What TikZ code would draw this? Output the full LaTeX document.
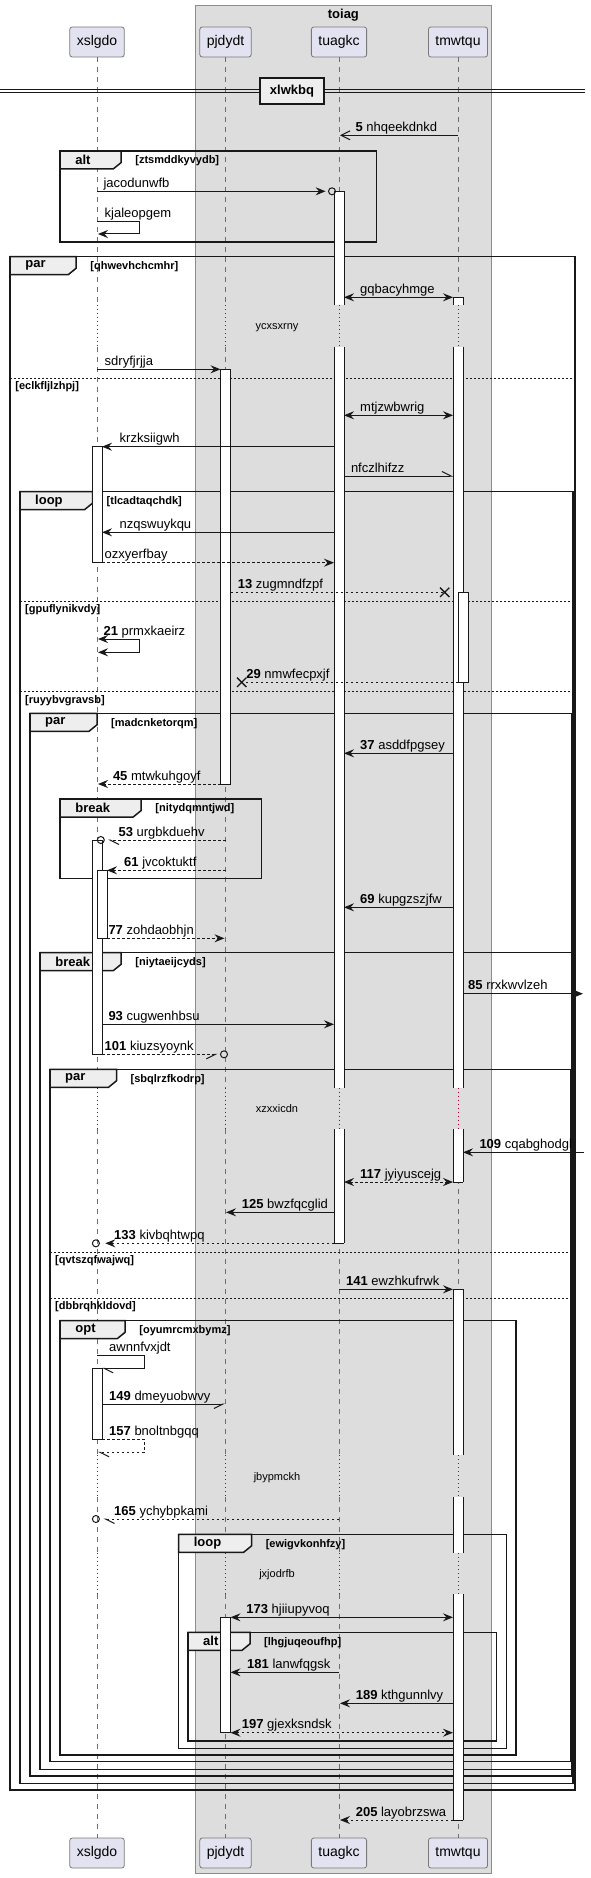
\documentclass[tikz,border=0pt]{standalone}
\usepackage{fontspec}
\setmainfont{Liberation Sans}
\usetikzlibrary{arrows.meta,shapes.misc}
\definecolor{PartFill}{HTML}{E2E2F0}
\definecolor{PartLine}{HTML}{7A7A7A}
\definecolor{GroupGray}{HTML}{DDDDDD}
\definecolor{GroupLine}{HTML}{8C8C8C}
\definecolor{TabFill}{HTML}{EEEEEE}
\definecolor{InkBlack}{HTML}{181818}
\definecolor{LifeGray}{HTML}{6E6E6E}
\definecolor{DelayRed}{HTML}{A80036}

% group frame: name, left, top, right, bottom, tab width, keyword, condition
\newcommand{\grpbox}[8]{%
  \filldraw[grptab] (#2,#3) -- (#2+#6,#3) -- (#2+#6,#3+11.5) -- (#2+#6-8,#3+18) -- (#2,#3+18) -- cycle;
  \draw[grpline] (#2,#3) rectangle (#4,#5);
  \node[grpkw] (#1) at (#2+15,#3+9) {#7};
  \node[grpcond] (#1c) at (#2+#6+14,#3+10) {#8};}
% else line: name, left, right, y, condition
\newcommand{\grpsep}[5]{%
  \draw[sepline] (#2,#4) -- (#3,#4);
  \node[grpcond] (#1) at (#2+5,#4+8.5) {#5};}
% activation bars
\newcommand{\actbar}[3]{\filldraw[actline] (#1-5,#2) rectangle (#1+5,#3);}
\newcommand{\actopen}[3]{\fill[white] (#1-5,#2) rectangle (#1+5,#3);
  \draw[actline] (#1-5,#2) -- (#1-5,#3) (#1+5,#2) -- (#1+5,#3);}
\newcommand{\actcap}[2]{\draw[actline] (#1-5,#2) -- (#1+5,#2);}

\begin{document}
\begin{tikzpicture}[x=1pt,y=-1pt,
  part/.style={draw=PartLine,fill=PartFill,rounded corners=2.5pt,line width=0.8pt,minimum height=30pt,inner xsep=7pt,font=\fontsize{14}{16}\selectfont},
  lifeline/.style={LifeGray,line width=0.8pt,dash pattern=on 5pt off 5pt},
  delayline/.style={DelayRed,line width=0.9pt,dash pattern=on 1pt off 3pt},
  grpline/.style={InkBlack,line width=1.5pt},
  grptab/.style={draw=InkBlack,fill=TabFill,line width=1.5pt},
  grpkw/.style={anchor=west,inner sep=0pt,font=\bfseries\fontsize{13}{15}\selectfont},
  grpcond/.style={anchor=west,inner sep=0pt,font=\bfseries\fontsize{11}{13}\selectfont},
  sepline/.style={InkBlack,line width=0.8pt,dash pattern=on 2pt off 2pt},
  actline/.style={draw=InkBlack,fill=white,line width=1pt},
  msgline/.style={InkBlack,line width=1pt},
  dashmsg/.style={msgline,dash pattern=on 2.5pt off 2.5pt},
  fullhead/.style={-{Stealth[length=10pt,width=8pt,inset=3.5pt]}},
  bothheads/.style={{Stealth[length=10pt,width=8pt,inset=3.5pt]}-{Stealth[length=10pt,width=8pt,inset=3.5pt]}},
  openhead/.style={-{Straight Barb[length=9pt,width=9pt]}},
  halfleft/.style={-{Straight Barb[length=9pt,width=9pt,left]}},
  halfright/.style={-{Straight Barb[length=9pt,width=9pt,right]}},
  endring/.style={circle,draw=InkBlack,line width=1pt,minimum size=7pt,inner sep=0pt},
  endcross/.style={cross out,draw=InkBlack,line width=1.3pt,minimum size=8pt,inner sep=0pt},
  msglbl/.style={anchor=base west,inner sep=0pt,font=\fontsize{13}{15}\selectfont},
  delaytxt/.style={inner sep=0pt,font=\fontsize{11}{13}\selectfont},
  divbox/.style={draw=InkBlack,fill=TabFill,line width=2pt,minimum width=64pt,minimum height=26pt,inner sep=0pt,font=\bfseries\fontsize{13}{15}\selectfont}]
\useasboundingbox[fill=white] (0,0) rectangle (591,1878);

% box round the three participants
\filldraw[fill=GroupGray,draw=GroupLine,line width=1pt] (195.7,6) rectangle (491,1873);
\node[font=\bfseries\fontsize{13}{15}\selectfont,inner sep=0pt] (toiag) at (343.4,15) {toiag};

% participants
\node[part] (xslgdo) at (97,42) {xslgdo};
\node[part] (pjdydt) at (225.5,42) {pjdydt};
\node[part] (tuagkc) at (339,42) {tuagkc};
\node[part] (tmwtqu) at (458,42) {tmwtqu};
\node[part] (xslgdo2) at (97,1853) {xslgdo};
\node[part] (pjdydt2) at (225.5,1853) {pjdydt};
\node[part] (tuagkc2) at (339,1853) {tuagkc};
\node[part] (tmwtqu2) at (458,1853) {tmwtqu};

% lifelines with the four delays
\coordinate (dy1a) at (0,305.3); \coordinate (dy1b) at (0,346.7);
\coordinate (dy2a) at (0,1087.7); \coordinate (dy2b) at (0,1129.3);
\coordinate (dy3a) at (0,1455); \coordinate (dy3b) at (0,1497.3);
\coordinate (dy4a) at (0,1553.3); \coordinate (dy4b) at (0,1594.3);
\foreach \p in {xslgdo,pjdydt,tuagkc,tmwtqu} {
  \draw[lifeline] (\p.south) -- (\p |- dy1a) (\p |- dy1b) -- (\p |- dy2a)
    (\p |- dy2b) -- (\p |- dy3a) (\p |- dy3b) -- (\p |- dy4a) (\p |- dy4b) -- (\p2.north);
  \draw[delayline] (\p |- dy1a) -- (\p |- dy1b) (\p |- dy2a) -- (\p |- dy2b)
    (\p |- dy3a) -- (\p |- dy3b) (\p |- dy4a) -- (\p |- dy4b);
}
\node[delaytxt] (dl1) at (277,327.3) {ycxsxrny};
\node[delaytxt] (dl2) at (277,1109) {xzxxicdn};
\node[delaytxt] (dl3) at (277,1477.3) {jbypmckh};
\node[delaytxt] (dl4) at (277,1574.3) {jxjodrfb};

% groups
\grpbox{gA}{60.2}{151}{376.3}{242}{61}{alt}{[ztsmddkyvydb]}
\grpbox{gB}{10.2}{256.7}{575}{1790}{66}{par}{[qhwevhchcmhr]}
\grpsep{sB1}{10.2}{575}{378.3}{[eclkfljlzhpj]}
\grpbox{gC}{20}{491.7}{573}{1783.3}{72.5}{loop}{[tlcadtaqchdk]}
\grpsep{sC1}{20}{573}{601.3}{[gpuflynikvdy]}
\grpsep{sC2}{20}{573}{691.7}{[ruyybvgravsb]}
\grpbox{gD}{30}{713.3}{572}{1776}{67}{par}{[madcnketorqm]}
\grpbox{gE}{60.2}{799}{261.3}{878.3}{81}{break}{[nitydqmntjwd]}
\grpbox{gF}{40.2}{952.7}{571.5}{1769.3}{81}{break}{[niytaeijcyds]}
\grpbox{gG}{50}{1069.3}{571}{1761.7}{66.5}{par}{[sbqlrzfkodrp]}
\grpsep{sG1}{50}{571}{1252.3}{[qvtszqfwajwq]}
\grpsep{sG2}{50}{571}{1298.3}{[dbbrqhkldovd]}
\grpbox{gH}{60.2}{1320.7}{516}{1755}{65}{opt}{[oyumrcmxbymz]}
\grpbox{gI}{178.6}{1534.3}{506.4}{1748.3}{73}{loop}{[ewigvkonhfzy]}
\grpbox{gJ}{188}{1632.3}{496.6}{1741}{62}{alt}{[lhgjuqeoufhp]}

% divider
\draw[InkBlack,line width=1pt] (0,89.5) -- (585,89.5) (0,93) -- (585,93);
\node[divbox] (xlwkbq) at (292,91) {xlwkbq};

% activations
\actopen{339}{191.3}{305.3} \actcap{339}{191.3}
\actopen{339}{346.7}{1087.7}
\actopen{339}{1129.3}{1243.3} \actcap{339}{1243.3}
\actopen{458}{297.3}{305.3} \actcap{458}{297.3}
\actopen{458}{346.7}{1087.7}
\actopen{458}{1129.3}{1182} \actcap{458}{1182}
\actbar{463}{592.3}{682.3}
\actopen{458}{1289.3}{1455} \actcap{458}{1289.3}
\actopen{458}{1497.3}{1553.3}
\actopen{458}{1594.3}{1820} \actcap{458}{1820}
\actbar{225.5}{369.3}{784}
\actbar{225.5}{1617.3}{1732.7}
\actbar{97}{446.7}{562.7}
\actbar{97}{840}{1054.3}
\actbar{102}{870.3}{938.3}
\actbar{97}{1368.3}{1439.3}

% messages
\coordinate (m5a) at (458,135.3); \coordinate (m5b) at (340,135.3);
\draw[msgline,openhead] (m5a) -- (m5b);
\node[msglbl] (t5) at (355.3,131.3) {\textbf{5} nhqeekdnkd};

\coordinate (jaa) at (97,191.3); \coordinate (jab) at (325.6,191.3);
\draw[msgline,fullhead] (jaa) -- (jab);
\node[endring] (jar) at (332,191.3) {};
\node[msglbl] (jat) at (103.4,187.3) {jacodunwfb};

\coordinate (kja) at (97,221.7); \coordinate (kjb) at (139,221.7);
\coordinate (kjc) at (139,234); \coordinate (kjd) at (98,234);
\draw[msgline,fullhead] (kja) -- (kjb) -- (kjc) -- (kjd);
\node[msglbl] (kjt) at (104.5,217.7) {kjaleopgem};

\coordinate (gqa) at (344,297.3); \coordinate (gqb) at (453,297.3);
\draw[msgline,bothheads] (gqa) -- (gqb);
\node[msglbl] (gqt) at (360,293.3) {gqbacyhmge};

\coordinate (sda) at (97,369.3); \coordinate (sdb) at (220.5,369.3);
\draw[msgline,fullhead] (sda) -- (sdb);
\node[msglbl] (sdt) at (104.5,365.3) {sdryfjrjja};

\coordinate (mta) at (344,415.3); \coordinate (mtb) at (453,415.3);
\draw[msgline,bothheads] (mta) -- (mtb);
\node[msglbl] (mtt) at (360,411.3) {mtjzwbwrig};

\coordinate (kra) at (334,446.7); \coordinate (krb) at (102,446.7);
\draw[msgline,fullhead] (kra) -- (krb);
\node[msglbl] (krt) at (119.5,442.7) {krzksiigwh};

\coordinate (nfa) at (344,476); \coordinate (nfb) at (453,476);
\draw[msgline,halfleft] (nfa) -- (nfb);
\node[msglbl] (nft) at (350.8,472) {nfczlhifzz};

\coordinate (nza) at (334,532.3); \coordinate (nzb) at (102,532.3);
\draw[msgline,fullhead] (nza) -- (nzb);
\node[msglbl] (nzt) at (119.5,528.3) {nzqswuykqu};

\coordinate (oza) at (102,562.7); \coordinate (ozb) at (334,562.7);
\draw[dashmsg,fullhead] (oza) -- (ozb);
\node[msglbl] (ozt) at (104.5,558.7) {ozxyerfbay};

\coordinate (m13a) at (230.5,592.3); \coordinate (m13b) at (444.7,592.3);
\draw[dashmsg] (m13a) -- (m13b);
\node[endcross] (m13x) at (m13b) {};
\node[msglbl] (t13) at (237.6,588.3) {\textbf{13} zugmndfzpf};

\coordinate (m21a) at (98,639); \coordinate (m21b) at (139,639);
\coordinate (m21c) at (139,652.3); \coordinate (m21d) at (98,652.3);
\draw[msgline,bothheads] (m21a) -- (m21b) -- (m21c) -- (m21d);
\node[msglbl] (t21) at (103.4,635) {\textbf{21} prmxkaeirz};

\coordinate (m29a) at (458,682.3); \coordinate (m29b) at (241.7,682.3);
\draw[dashmsg] (m29a) -- (m29b);
\node[endcross] (m29x) at (m29b) {};
\node[msglbl] (t29) at (246.2,678.3) {\textbf{29} nmwfecpxjf};

\coordinate (m37a) at (453,753.3); \coordinate (m37b) at (344,753.3);
\draw[msgline,fullhead] (m37a) -- (m37b);
\node[msglbl] (t37) at (360,749.3) {\textbf{37} asddfpgsey};

\coordinate (m45a) at (220.5,784); \coordinate (m45b) at (98,784);
\draw[dashmsg,fullhead] (m45a) -- (m45b);
\node[msglbl] (t45) at (112.8,780) {\textbf{45} mtwkuhgoyf};

\coordinate (m53a) at (225.5,840); \coordinate (m53b) at (108,840);
\draw[dashmsg,halfleft] (m53a) -- (m53b);
\node[endring] (m53r) at (100.8,840) {};
\node[msglbl] (t53) at (118.4,836) {\textbf{53} urgbkduehv};

\coordinate (m61a) at (225.5,870.3); \coordinate (m61b) at (107,870.3);
\draw[dashmsg,fullhead] (m61a) -- (m61b);
\node[msglbl] (t61) at (124,866.3) {\textbf{61} jvcoktuktf};

\coordinate (m69a) at (453,907.3); \coordinate (m69b) at (344,907.3);
\draw[msgline,fullhead] (m69a) -- (m69b);
\node[msglbl] (t69) at (360,903.3) {\textbf{69} kupgzszjfw};

\coordinate (m77a) at (107,938.3); \coordinate (m77b) at (224.5,938.3);
\draw[dashmsg,fullhead] (m77a) -- (m77b);
\node[msglbl] (t77) at (108.3,934.3) {\textbf{77} zohdaobhjn};

\coordinate (m85a) at (463,993.7); \coordinate (m85b) at (583,993.7);
\draw[msgline,fullhead] (m85a) -- (m85b);
\node[msglbl] (t85) at (468,989.7) {\textbf{85} rrxkwvlzeh};

\coordinate (m93a) at (102,1024.3); \coordinate (m93b) at (334,1024.3);
\draw[msgline,fullhead] (m93a) -- (m93b);
\node[msglbl] (t93) at (108.3,1020.3) {\textbf{93} cugwenhbsu};

\coordinate (m101a) at (102,1054.3); \coordinate (m101b) at (217.5,1054.3);
\draw[dashmsg,halfright] (m101a) -- (m101b);
\node[endring] (m101r) at (224,1054.3) {};
\node[msglbl] (t101) at (104.5,1050.3) {\textbf{101} kiuzsyoynk};

\coordinate (m109a) at (583.5,1152.3); \coordinate (m109b) at (463,1152.3);
\draw[msgline,fullhead] (m109a) -- (m109b);
\node[msglbl] (t109) at (479.3,1148.3) {\textbf{109} cqabghodgl};

\coordinate (m117a) at (344,1182); \coordinate (m117b) at (453,1182);
\draw[dashmsg,bothheads] (m117a) -- (m117b);
\node[msglbl] (t117) at (360,1178) {\textbf{117} jyiyuscejg};

\coordinate (m125a) at (334,1212.3); \coordinate (m125b) at (226,1212.3);
\draw[msgline,fullhead] (m125a) -- (m125b);
\node[msglbl] (t125) at (241.7,1208.3) {\textbf{125} bwzfqcglid};

\coordinate (m133a) at (334,1243.3); \coordinate (m133b) at (105.3,1243.3);
\draw[dashmsg,fullhead] (m133a) -- (m133b);
\node[endring] (m133r) at (95.9,1243.3) {};
\node[msglbl] (t133) at (114,1239.3) {\textbf{133} kivbqhtwpq};

\coordinate (m141a) at (339,1289.3); \coordinate (m141b) at (453,1289.3);
\draw[msgline,fullhead] (m141a) -- (m141b);
\node[msglbl] (t141) at (345.9,1285.3) {\textbf{141} ewzhkufrwk};

\coordinate (awa) at (97,1355.7); \coordinate (awb) at (144,1355.7);
\coordinate (awc) at (144,1368.3); \coordinate (awd) at (102,1368.3);
\draw[msgline,halfleft] (awa) -- (awb) -- (awc) -- (awd);
\node[msglbl] (awt) at (109,1351.7) {awnnfvxjdt};

\coordinate (m149a) at (102,1404); \coordinate (m149b) at (225,1404);
\draw[msgline,halfright] (m149a) -- (m149b);
\node[msglbl] (t149) at (109,1400) {\textbf{149} dmeyuobwvy};

\coordinate (m157a) at (102,1439.3); \coordinate (m157b) at (144,1439.3);
\coordinate (m157c) at (144,1452.3); \coordinate (m157d) at (98,1452.3);
\draw[dashmsg,halfleft] (m157a) -- (m157b) -- (m157c) -- (m157d);
\node[msglbl] (t157) at (109,1435.3) {\textbf{157} bnoltnbgqq};

\coordinate (m165a) at (339,1519); \coordinate (m165b) at (103.4,1519);
\draw[dashmsg,halfleft] (m165a) -- (m165b);
\node[endring] (m165r) at (95.9,1519) {};
\node[msglbl] (t165) at (114,1515) {\textbf{165} ychybpkami};

\coordinate (m173a) at (230.5,1617.3); \coordinate (m173b) at (453,1617.3);
\draw[msgline,bothheads] (m173a) -- (m173b);
\node[msglbl] (t173) at (246.2,1613.3) {\textbf{173} hjiiupyvoq};

\coordinate (m181a) at (339,1672.3); \coordinate (m181b) at (230.5,1672.3);
\draw[msgline,fullhead] (m181a) -- (m181b);
\node[msglbl] (t181) at (247,1668.3) {\textbf{181} lanwfqgsk};

\coordinate (m189a) at (453,1703.3); \coordinate (m189b) at (340,1703.3);
\draw[msgline,fullhead] (m189a) -- (m189b);
\node[msglbl] (t189) at (355.6,1699.3) {\textbf{189} kthgunnlvy};

\coordinate (m197a) at (230.5,1732.7); \coordinate (m197b) at (453,1732.7);
\draw[dashmsg,bothheads] (m197a) -- (m197b);
\node[msglbl] (t197) at (241.7,1728.7) {\textbf{197} gjexksndsk};

\coordinate (m205a) at (453,1820); \coordinate (m205b) at (340,1820);
\draw[dashmsg,fullhead] (m205a) -- (m205b);
\node[msglbl] (t205) at (355.6,1816) {\textbf{205} layobrzswa};
\end{tikzpicture}
\end{document}
